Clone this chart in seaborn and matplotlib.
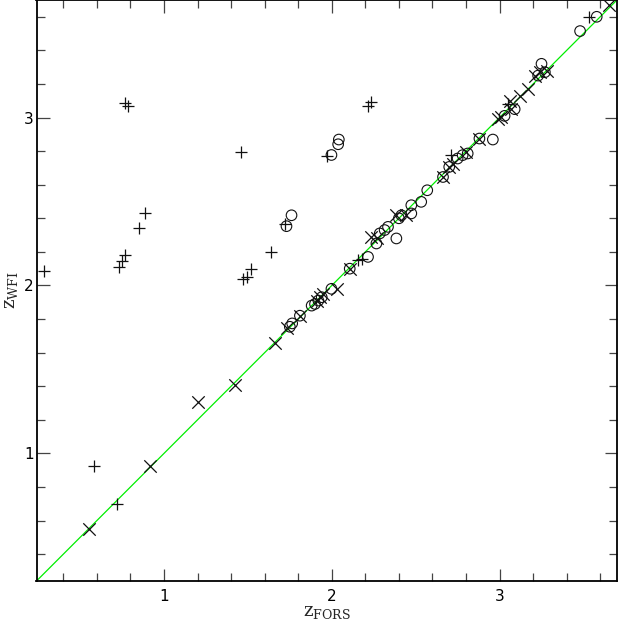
import numpy as np
import pandas as pd
import matplotlib
matplotlib.use("Agg")
import matplotlib.pyplot as plt
import seaborn as sns
from matplotlib.ticker import MultipleLocator

# ---- data ----
plus_x = [0.284, 0.768, 0.784, 0.887, 0.849, 0.770, 0.748, 0.730, 1.456, 1.635,
          1.516, 1.496, 1.472, 1.720, 2.216, 2.232, 1.972, 0.581, 0.718, 3.536,
          2.157, 2.180, 2.710, 3.050]
plus_y = [2.087, 3.087, 3.067, 2.430, 2.343, 2.179, 2.145, 2.111, 2.795, 2.198,
          2.099, 2.051, 2.036, 2.369, 3.067, 3.093, 2.771, 0.926, 0.698, 3.600,
          2.150, 2.160, 2.776, 3.080]

cross_x = [0.550, 0.918, 1.200, 1.423, 1.660, 1.734, 1.810, 1.930, 1.910, 2.030,
           2.107, 2.236, 2.385, 2.440, 2.663, 2.700, 2.720, 2.800, 2.880, 3.010,
           2.990, 3.070, 3.060, 3.120, 3.170, 3.210, 3.240, 3.280, 3.655, 2.270,
           1.950]
cross_y = [0.548, 0.926, 1.307, 1.406, 1.658, 1.744, 1.820, 1.930, 1.910, 1.980,
           2.100, 2.290, 2.418, 2.420, 2.646, 2.706, 2.726, 2.795, 2.875, 3.003,
           2.990, 3.050, 3.100, 3.130, 3.170, 3.250, 3.270, 3.280, 3.670, 2.280,
           1.950]

circ_x = [1.730, 1.760, 2.042, 2.038, 1.998, 1.764, 1.810, 1.750, 1.880, 1.900,
          1.920, 1.940, 1.998, 2.107, 2.216, 2.266, 2.286, 2.315, 2.335, 2.385,
          2.415, 2.474, 2.474, 2.533, 2.569, 2.663, 2.700, 2.750, 2.780, 2.810,
          2.880, 2.960, 3.030, 3.090, 3.230, 3.250, 3.270, 3.480, 3.579, 2.400]
circ_y = [2.353, 2.418, 2.869, 2.841, 2.777, 1.774, 1.820, 1.754, 1.880, 1.890,
          1.910, 1.930, 1.980, 2.100, 2.170, 2.250, 2.310, 2.330, 2.349, 2.280,
          2.418, 2.429, 2.478, 2.498, 2.567, 2.646, 2.706, 2.756, 2.776, 2.786,
          2.875, 2.869, 3.010, 3.050, 3.250, 3.320, 3.270, 3.515, 3.600, 2.400]

line_x = [0.24, 3.70]
line_y = [0.24, 3.70]

x_label = r"$\mathrm{z}_{\mathrm{FORS}}$"
y_label = r"$\mathrm{z}_{\mathrm{WFI}}$"
major_ticks = [1, 2, 3]
tick_labels = ["1", "2", "3"]

# ---- plot ----
sns.set_theme(style="white")
plt.rcParams["font.family"] = ["DejaVu Sans"]
plt.rcParams["mathtext.fontset"] = "dejavuserif"

fig = plt.figure(figsize=(6.18, 6.22), dpi=100)
ax = fig.add_axes([36.5 / 618, 1 - 581 / 622, (617 - 36.5) / 618, 581 / 622])

sns.lineplot(x=line_x, y=line_y, ax=ax, color="#00ee00", linewidth=0.9, zorder=1)

df_plus = pd.DataFrame({"x": plus_x, "y": plus_y})
df_cross = pd.DataFrame({"x": cross_x, "y": cross_y})
df_circ = pd.DataFrame({"x": circ_x, "y": circ_y})

sns.scatterplot(data=df_circ, x="x", y="y", ax=ax, marker="o", s=58,
                facecolor="none", edgecolor="#111111", linewidth=0.8, zorder=3)
sns.scatterplot(data=df_cross, x="x", y="y", ax=ax, marker="x", s=80,
                color="#111111", linewidth=0.9, zorder=3)
sns.scatterplot(data=df_plus, x="x", y="y", ax=ax, marker="+", s=70,
                color="#111111", linewidth=0.9, zorder=3)

ax.set_xlim(0.24, 3.70)
ax.set_ylim(0.24, 3.70)
ax.set_xticks(major_ticks)
ax.set_xticklabels(tick_labels)
ax.set_yticks(major_ticks)
ax.set_yticklabels(tick_labels)
ax.xaxis.set_minor_locator(MultipleLocator(0.2))
ax.yaxis.set_minor_locator(MultipleLocator(0.2))
ax.tick_params(which="both", direction="in", top=True, right=True,
               bottom=True, left=True, color="#444444", width=0.9)
ax.tick_params(which="major", length=9, labelsize=11, labelcolor="black")
ax.tick_params(axis="x", which="major", pad=6)
ax.tick_params(axis="y", which="major", pad=2)
ax.tick_params(which="minor", length=5.5)

ax.set_xlabel(x_label, fontsize=13, labelpad=-1)
ax.set_ylabel(y_label, fontsize=13)
ax.yaxis.set_label_coords(-0.029, 0.5)

for sp in ax.spines.values():
    sp.set_color("black")
    sp.set_linewidth(1.3)

ax.set_facecolor("white")
fig.savefig("out.png", dpi=100, facecolor="white")
